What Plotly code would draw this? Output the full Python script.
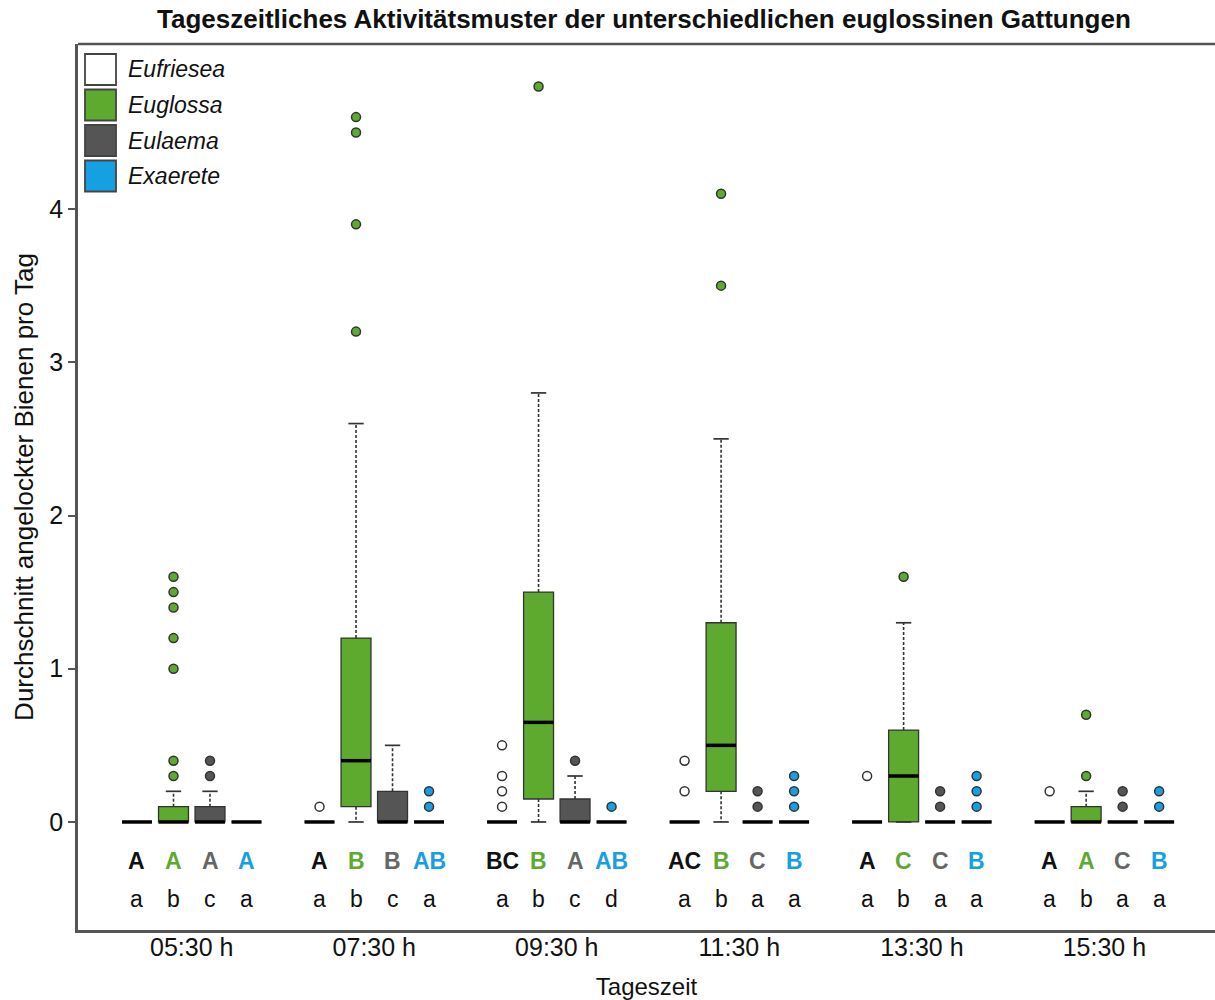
import plotly.graph_objects as go

# Time slots and genera
times = ["05:30 h", "07:30 h", "09:30 h", "11:30 h", "13:30 h", "15:30 h"]
genera = ["Eufriesea", "Euglossa", "Eulaema", "Exaerete"]

# Box statistics per genus (one value per time slot)
eufriesea_q1 = [0, 0, 0, 0, 0, 0]
eufriesea_med = [0, 0, 0, 0, 0, 0]
eufriesea_q3 = [0, 0, 0, 0, 0, 0]
eufriesea_lo = [0, 0, 0, 0, 0, 0]
eufriesea_hi = [0, 0, 0, 0, 0, 0]
eufriesea_out = [[], [0.1], [0.1, 0.2, 0.3, 0.5], [0.2, 0.4], [0.3], [0.2]]

euglossa_q1 = [0, 0.1, 0.15, 0.2, 0, 0]
euglossa_med = [0, 0.4, 0.65, 0.5, 0.3, 0]
euglossa_q3 = [0.1, 1.2, 1.5, 1.3, 0.6, 0.1]
euglossa_lo = [0, 0, 0, 0, 0, 0]
euglossa_hi = [0.2, 2.6, 2.8, 2.5, 1.3, 0.2]
euglossa_out = [[0.3, 0.4, 1.0, 1.2, 1.4, 1.5, 1.6], [3.2, 3.9, 4.5, 4.6], [4.8],
                [3.5, 4.1], [1.6], [0.3, 0.7]]

eulaema_q1 = [0, 0, 0, 0, 0, 0]
eulaema_med = [0, 0, 0, 0, 0, 0]
eulaema_q3 = [0.1, 0.2, 0.15, 0, 0, 0]
eulaema_lo = [0, 0, 0, 0, 0, 0]
eulaema_hi = [0.2, 0.5, 0.3, 0, 0, 0]
eulaema_out = [[0.3, 0.4], [], [0.4], [0.1, 0.2], [0.1, 0.2], [0.1, 0.2]]

exaerete_q1 = [0, 0, 0, 0, 0, 0]
exaerete_med = [0, 0, 0, 0, 0, 0]
exaerete_q3 = [0, 0, 0, 0, 0, 0]
exaerete_lo = [0, 0, 0, 0, 0, 0]
exaerete_hi = [0, 0, 0, 0, 0, 0]
exaerete_out = [[], [0.1, 0.2], [0.1], [0.1, 0.2, 0.3], [0.1, 0.2, 0.3], [0.1, 0.2]]

# Significance letters (between time slots: upper case; between genera: lower case)
eufriesea_upper = ["A", "A", "BC", "AC", "A", "A"]
euglossa_upper = ["A", "B", "B", "B", "C", "A"]
eulaema_upper = ["A", "B", "A", "C", "C", "C"]
exaerete_upper = ["A", "AB", "AB", "B", "B", "B"]
eufriesea_lower = ["a", "a", "a", "a", "a", "a"]
euglossa_lower = ["b", "b", "b", "b", "b", "b"]
eulaema_lower = ["c", "c", "c", "a", "a", "a"]
exaerete_lower = ["a", "a", "d", "a", "a", "a"]

stats = {
    "Eufriesea": (eufriesea_q1, eufriesea_med, eufriesea_q3, eufriesea_lo, eufriesea_hi,
                  eufriesea_out, eufriesea_upper, eufriesea_lower),
    "Euglossa": (euglossa_q1, euglossa_med, euglossa_q3, euglossa_lo, euglossa_hi,
                 euglossa_out, euglossa_upper, euglossa_lower),
    "Eulaema": (eulaema_q1, eulaema_med, eulaema_q3, eulaema_lo, eulaema_hi,
                eulaema_out, eulaema_upper, eulaema_lower),
    "Exaerete": (exaerete_q1, exaerete_med, exaerete_q3, exaerete_lo, exaerete_hi,
                 exaerete_out, exaerete_upper, exaerete_lower),
}

fill = {"Eufriesea": "#FFFFFF", "Euglossa": "#5DAA2F", "Eulaema": "#555555", "Exaerete": "#16A0E2"}
letter_col = {"Eufriesea": "#111111", "Euglossa": "#5DAA2F", "Eulaema": "#666666", "Exaerete": "#16A0E2"}

FONT = "Liberation Sans, Arial, sans-serif"
EDGE = "#333333"
BOX_W = 0.82
CAP_W = 0.42

fig = go.Figure()
annotations = []

for k, g in enumerate(genera):
    q1, med, q3, lo, hi, out, up, low = stats[g]
    pos = [t * 5 + k for t in range(len(times))]

    # boxes
    fig.add_trace(go.Bar(
        x=pos, base=q1, y=[b - a for a, b in zip(q1, q3)], width=BOX_W,
        marker=dict(color=fill[g], line=dict(color=EDGE, width=1.3)),
        showlegend=False, hoverinfo="skip"))

    # dashed whiskers
    wx, wy = [], []
    for p, a, b, l, h in zip(pos, q1, q3, lo, hi):
        wx += [p, p, None, p, p, None]
        wy += [b, h, None, a, l, None]
    fig.add_trace(go.Scatter(x=wx, y=wy, mode="lines",
                             line=dict(color=EDGE, width=1.6, dash="3px,2px"),
                             showlegend=False, hoverinfo="skip"))

    # whisker caps
    cx, cy = [], []
    for p, l, h in zip(pos, lo, hi):
        cx += [p - CAP_W / 2, p + CAP_W / 2, None, p - CAP_W / 2, p + CAP_W / 2, None]
        cy += [h, h, None, l, l, None]
    fig.add_trace(go.Scatter(x=cx, y=cy, mode="lines",
                             line=dict(color=EDGE, width=1.7),
                             showlegend=False, hoverinfo="skip"))

    # medians
    mx, my = [], []
    for p, m in zip(pos, med):
        mx += [p - BOX_W / 2, p + BOX_W / 2, None]
        my += [m, m, None]
    fig.add_trace(go.Scatter(x=mx, y=my, mode="lines",
                             line=dict(color="#000000", width=3.5),
                             showlegend=False, hoverinfo="skip"))

    # outliers
    ox, oy = [], []
    for p, vals in zip(pos, out):
        ox += [p] * len(vals)
        oy += vals
    fig.add_trace(go.Scatter(x=ox, y=oy, mode="markers",
                             marker=dict(symbol="circle", size=9, color=fill[g],
                                         line=dict(color=EDGE, width=1.5)),
                             showlegend=False, hoverinfo="skip"))

    # letters below each box
    for p, u, lw in zip(pos, up, low):
        annotations.append(dict(x=p, y=-0.254, xref="x", yref="y", text=f"<b>{u}</b>",
                                showarrow=False, font=dict(family=FONT, size=23, color=letter_col[g])))
        annotations.append(dict(x=p, y=-0.50, xref="x", yref="y", text=lw,
                                showarrow=False, font=dict(family=FONT, size=23, color="#111111")))

# Legend drawn as squares with italic labels in the top-left corner
L, T, W, H = 78, 44, 1137, 886
shapes = [dict(type="line", xref="paper", yref="paper", x0=0, x1=1, y0=1, y1=1,
               line=dict(color="#555555", width=2.5))]
for i, g in enumerate(genera):
    top = 54 + i * 35.5
    shapes.append(dict(type="rect", xref="paper", yref="paper",
                       x0=(85 - L) / W, x1=(116 - L) / W,
                       y0=(T + H - top) / H, y1=(T + H - top - 31) / H,
                       fillcolor=fill[g], line=dict(color="#444444", width=1.8)))
    annotations.append(dict(x=(126 - L) / W, y=(T + H - top - 15.5) / H, xref="paper", yref="paper",
                            text=f"<i>{g}</i>", showarrow=False, xanchor="left", yanchor="middle",
                            font=dict(family=FONT, size=23, color="#111111")))

fig.update_layout(
    width=1215, height=1000,
    margin=dict(l=L, r=0, t=T, b=70),
    paper_bgcolor="white", plot_bgcolor="white",
    barmode="overlay",
    showlegend=False,
    font=dict(family=FONT, size=24, color="#111111"),
    title=dict(text="<b>Tageszeitliches Aktivitätsmuster der unterschiedlichen euglossinen Gattungen</b>",
               x=0.53, xanchor="center", y=0.981, yanchor="middle",
               font=dict(family=FONT, size=26, color="#111111")),
    xaxis=dict(range=[-1.616, 29.53], tickvals=[t * 5 + 1.5 for t in range(len(times))],
               ticktext=times, ticks="", showgrid=False, zeroline=False,
               showline=True, linecolor="#555555", linewidth=2.5, ticklabelstandoff=-7,
               tickfont=dict(size=25), title=dict(text="Tageszeit", standoff=19, font=dict(size=24))),
    yaxis=dict(range=[-0.705, 5.077], tickvals=[0, 1, 2, 3, 4], ticks="outside", ticklen=7,
               tickcolor="#555555", tickwidth=1.5, showgrid=False, zeroline=False,
               showline=True, linecolor="#555555", linewidth=2.5,
               tickfont=dict(size=25),
               title=dict(text="Durchschnitt angelockter Bienen pro Tag", standoff=9, font=dict(size=26))),
    shapes=shapes,
    annotations=annotations,
)

fig.write_html("out.html")
